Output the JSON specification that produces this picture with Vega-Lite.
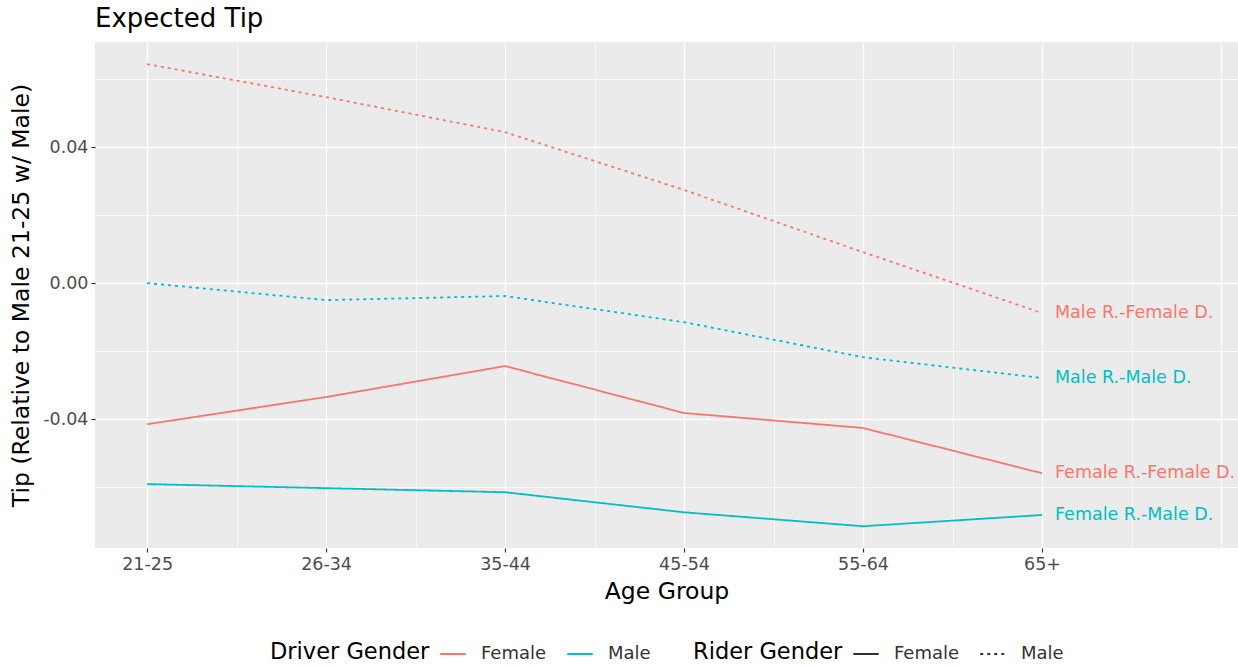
{
  "$schema": "https://vega.github.io/schema/vega-lite/v6.json",
  "autosize": {"type": "none"},
  "padding": {"left": 95, "top": 42, "right": 0, "bottom": 117},
  "width": 1143,
  "height": 506,
  "background": "white",
  "title": {"text": "Expected Tip", "anchor": "start", "frame": "group", "fontSize": 26, "font": "DejaVu Sans", "fontWeight": "normal", "color": "black", "offset": 10},
  "data": {"values": [
    {"age": 1, "driver": "Female", "rider": "Male", "series": "Male R.-Female D.", "tip": 0.0644},
    {"age": 2, "driver": "Female", "rider": "Male", "series": "Male R.-Female D.", "tip": 0.0547},
    {"age": 3, "driver": "Female", "rider": "Male", "series": "Male R.-Female D.", "tip": 0.0444},
    {"age": 4, "driver": "Female", "rider": "Male", "series": "Male R.-Female D.", "tip": 0.0274},
    {"age": 5, "driver": "Female", "rider": "Male", "series": "Male R.-Female D.", "tip": 0.0091},
    {"age": 6, "driver": "Female", "rider": "Male", "series": "Male R.-Female D.", "tip": -0.0088},
    {"age": 1, "driver": "Male", "rider": "Male", "series": "Male R.-Male D.", "tip": 0.0},
    {"age": 2, "driver": "Male", "rider": "Male", "series": "Male R.-Male D.", "tip": -0.0050},
    {"age": 3, "driver": "Male", "rider": "Male", "series": "Male R.-Male D.", "tip": -0.0038},
    {"age": 4, "driver": "Male", "rider": "Male", "series": "Male R.-Male D.", "tip": -0.0115},
    {"age": 5, "driver": "Male", "rider": "Male", "series": "Male R.-Male D.", "tip": -0.0218},
    {"age": 6, "driver": "Male", "rider": "Male", "series": "Male R.-Male D.", "tip": -0.0279},
    {"age": 1, "driver": "Female", "rider": "Female", "series": "Female R.-Female D.", "tip": -0.0415},
    {"age": 2, "driver": "Female", "rider": "Female", "series": "Female R.-Female D.", "tip": -0.0335},
    {"age": 3, "driver": "Female", "rider": "Female", "series": "Female R.-Female D.", "tip": -0.0244},
    {"age": 4, "driver": "Female", "rider": "Female", "series": "Female R.-Female D.", "tip": -0.0382},
    {"age": 5, "driver": "Female", "rider": "Female", "series": "Female R.-Female D.", "tip": -0.0426},
    {"age": 6, "driver": "Female", "rider": "Female", "series": "Female R.-Female D.", "tip": -0.0559},
    {"age": 1, "driver": "Male", "rider": "Female", "series": "Female R.-Male D.", "tip": -0.0591},
    {"age": 2, "driver": "Male", "rider": "Female", "series": "Female R.-Male D.", "tip": -0.0603},
    {"age": 3, "driver": "Male", "rider": "Female", "series": "Female R.-Male D.", "tip": -0.0615},
    {"age": 4, "driver": "Male", "rider": "Female", "series": "Female R.-Male D.", "tip": -0.0674},
    {"age": 5, "driver": "Male", "rider": "Female", "series": "Female R.-Male D.", "tip": -0.0715},
    {"age": 6, "driver": "Male", "rider": "Female", "series": "Female R.-Male D.", "tip": -0.0682}
  ]},
  "encoding": {
    "x": {
      "field": "age", "type": "quantitative",
      "scale": {"domain": [0.709, 7.095], "nice": false, "zero": false},
      "axis": {
        "title": "Age Group",
        "values": [1, 1.5, 2, 2.5, 3, 3.5, 4, 4.5, 5, 5.5, 6, 6.5, 7],
        "labelExpr": "['', '21-25', '26-34', '35-44', '45-54', '55-64', '65+'][datum.value] || ''",
        "grid": true,
        "gridColor": "white",
        "gridWidth": {"condition": {"test": "datum.value % 1 != 0", "value": 0.6}, "value": 1.3},
        "tickOpacity": {"condition": {"test": "datum.value % 1 != 0 || datum.value > 6.5", "value": 0}, "value": 1},
        "titlePadding": 7
      }
    },
    "y": {
      "field": "tip", "type": "quantitative",
      "scale": {"domain": [-0.0779, 0.0709], "nice": false, "zero": false},
      "axis": {
        "title": "Tip (Relative to Male 21-25 w/ Male)",
        "values": [-0.06, -0.04, -0.02, 0, 0.02, 0.04, 0.06],
        "labelExpr": "abs(datum.value) < 1e-9 ? '0.00' : (abs(abs(datum.value) - 0.04) < 1e-9 ? (datum.value < 0 ? '-0.04' : '0.04') : '')",
        "grid": true,
        "gridColor": "white",
        "gridWidth": {"condition": {"test": "abs(datum.value) < 1e-9 || abs(abs(datum.value) - 0.04) < 1e-9", "value": 1.3}, "value": 0.6},
        "tickOpacity": {"condition": {"test": "abs(datum.value) < 1e-9 || abs(abs(datum.value) - 0.04) < 1e-9", "value": 1}, "value": 0},
        "titlePadding": 9
      }
    },
    "color": {
      "field": "driver", "type": "nominal", "title": "Driver Gender",
      "scale": {"range": ["#F8766D", "#00BFC4"]},
      "legend": {"symbolType": "stroke", "symbolStrokeWidth": 2, "symbolDash": [1, 0], "orient": "bottom", "direction": "horizontal", "titleOrient": "left", "order": 1}
    }
  },
  "layer": [
    {
      "mark": {"type": "line", "strokeWidth": 1.8},
      "encoding": {
        "detail": {"field": "series"},
        "strokeDash": {
          "field": "rider", "type": "nominal", "title": "Rider Gender",
          "scale": {"range": [[1, 0], [3, 4]]},
          "legend": {"symbolType": "stroke", "symbolStrokeColor": "#333333", "symbolStrokeWidth": 2, "orient": "bottom", "direction": "horizontal", "titleOrient": "left", "order": 2}
        }
      }
    },
    {
      "transform": [{"filter": "datum.age == 6"}],
      "mark": {"type": "text", "align": "left", "baseline": "middle", "dx": 13, "fontSize": 17.5, "font": "DejaVu Sans"},
      "encoding": {"text": {"field": "series"}}
    }
  ],
  "config": {
    "view": {"fill": "#EBEBEB", "stroke": null},
    "axis": {
      "domain": false,
      "tickColor": "#333333",
      "tickSize": 4,
      "tickWidth": 1.2,
      "labelFont": "DejaVu Sans",
      "labelFontSize": 17.5,
      "labelColor": "#4D4D4D",
      "labelPadding": 3,
      "titleFont": "DejaVu Sans",
      "titleFontSize": 23.5,
      "titleFontWeight": "normal",
      "titleColor": "black"
    },
    "legend": {
      "titleFont": "DejaVu Sans",
      "titleFontSize": 22.5,
      "titleFontWeight": "normal",
      "titleColor": "black",
      "labelFont": "DejaVu Sans",
      "labelFontSize": 18,
      "labelColor": "#333333",
      "symbolSize": 650,
      "titlePadding": 9,
      "labelOffset": 14,
      "columnPadding": 16,
      "offset": 37,
      "layout": {"bottom": {"anchor": "middle", "direction": "horizontal", "margin": 42}}
    }
  }
}
